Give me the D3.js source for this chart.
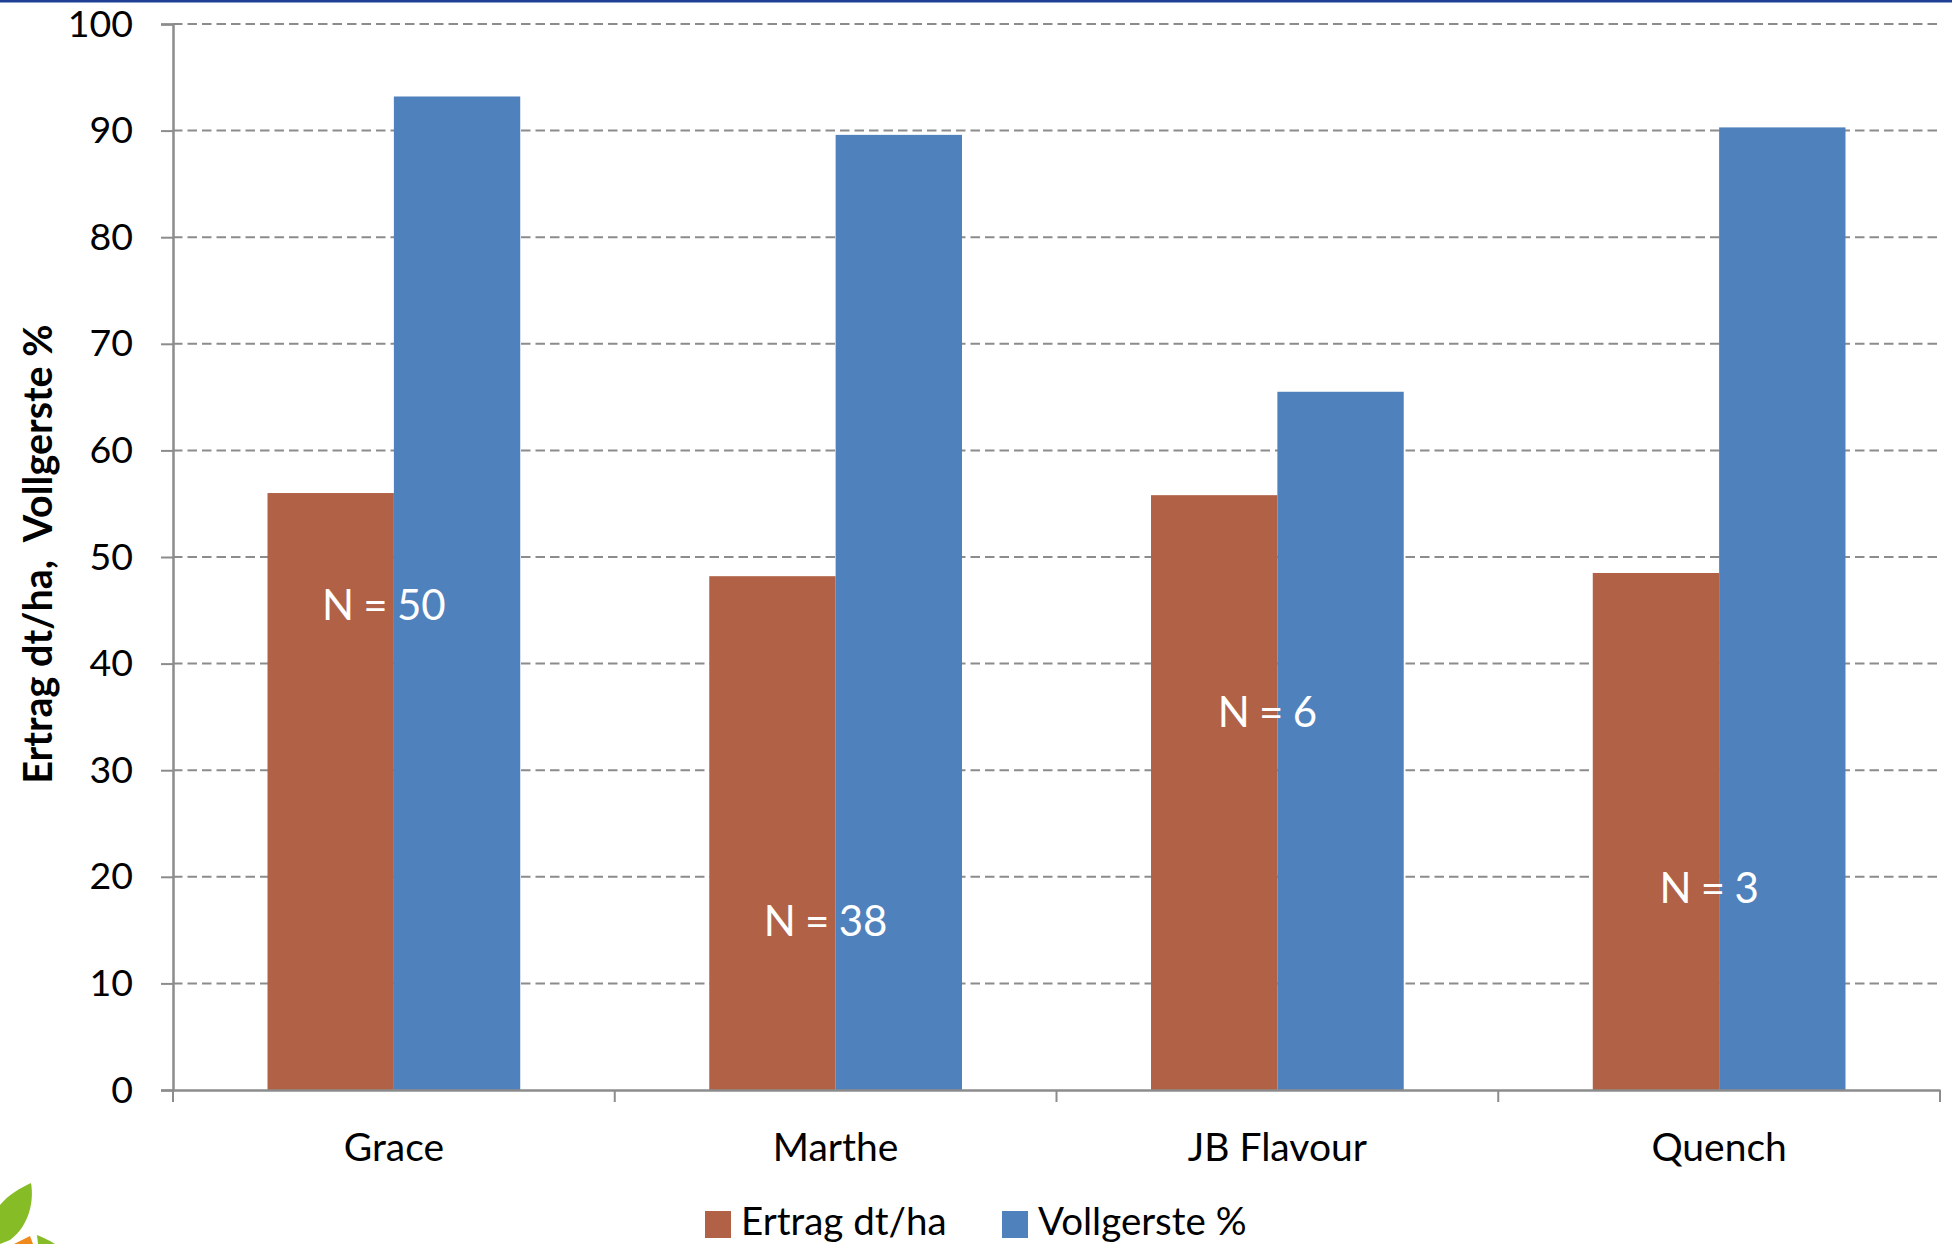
<!DOCTYPE html>
<html><head><meta charset="utf-8">
<script src="https://cdn.jsdelivr.net/npm/d3@7"></script>
<style>body{margin:0;background:#fff}svg{display:block}text{font-family:Lato,"Open Sans",sans-serif}</style>
</head><body>
<script>
const categories = ["Grace","Marthe","JB Flavour","Quench"];
const seriesNames = ["Ertrag dt/ha","Vollgerste %"];
const ertrag = [56.0, 48.2, 55.8, 48.5];
const vollgerste = [93.2, 89.6, 65.5, 90.3];
const nLabels = ["N = 50","N = 38","N = 6","N = 3"];
const nLabelY = [45.5, 15.9, 35.5, 19.0];
const yTicks = [0,10,20,30,40,50,60,70,80,90,100];
const colors = ["#B16146","#4F81BD"];

const W=1952,H=1244;
const svg=d3.select("body").append("svg").attr("width",W).attr("height",H);
const L=173,R=1940,T=24,B=1090;
const y=d3.scaleLinear().domain([0,100]).range([B,T]);
const x=d3.scaleBand().domain(categories).range([L,R]).paddingInner(0).paddingOuter(0);
const xs=d3.scaleBand().domain(seriesNames).range([0,x.bandwidth()]).paddingInner(0).paddingOuter(0.748);

// top blue line
svg.append("rect").attr("x",0).attr("y",0).attr("width",W).attr("height",2.5).attr("fill","#1F3F95");

// gridlines
svg.append("g").selectAll("line").data(yTicks.filter(d=>d>0)).join("line")
  .attr("x1",L).attr("x2",R).attr("y1",d=>y(d)).attr("y2",d=>y(d))
  .attr("stroke","#8C8C8C").attr("stroke-width",2).attr("stroke-dasharray","9.5,5");

// bars
const rows=categories.map((c,i)=>({c,vals:[ertrag[i],vollgerste[i]]}));
const g=svg.append("g");
rows.forEach(r=>{
  r.vals.forEach((v,j)=>{
    g.append("rect").attr("x",x(r.c)+xs(seriesNames[j])).attr("y",y(v))
      .attr("width",xs.bandwidth()).attr("height",y(0)-y(v)).attr("fill",colors[j]);
  });
});

// N labels
svg.append("g").selectAll("text").data(categories).join("text")
  .attr("x",(d)=>x(d)+x.bandwidth()/2-10).attr("y",(d,i)=>y(nLabelY[i]))
  .attr("dy","0.36em").attr("text-anchor","middle").attr("fill","#fff")
  .attr("font-size",42).attr("word-spacing",-1.5).text((d,i)=>nLabels[i]);

// y axis
const ya=svg.append("g").attr("transform",`translate(${L},0)`)
  .call(d3.axisLeft(y).tickValues(yTicks).tickSize(12).tickPadding(28));
ya.select(".domain").attr("stroke","#8C8C8C").attr("stroke-width",2.5);
ya.selectAll(".tick line").attr("stroke","#8C8C8C").attr("stroke-width",2);
ya.selectAll(".tick text").attr("font-size",37.5).attr("fill","#000").attr("font-family","Lato");

// x axis
const xa=svg.append("g").attr("transform",`translate(0,${B})`)
  .call(d3.axisBottom(x).tickSize(0).tickPadding(43));
xa.select(".domain").attr("stroke","#8C8C8C").attr("stroke-width",2.5);
xa.selectAll(".tick text").attr("font-size",39).attr("fill","#000").attr("font-family","Lato");
const bounds=categories.map(c=>x(c)).concat([R]);
svg.append("g").selectAll("line").data(bounds).join("line")
  .attr("x1",d=>d).attr("x2",d=>d).attr("y1",B).attr("y2",B+12)
  .attr("stroke","#8C8C8C").attr("stroke-width",2);

// y title
svg.append("text").attr("transform","translate(52,554) rotate(-90)")
  .attr("text-anchor","middle").attr("font-weight","bold").attr("font-size",39.5)
  .attr("xml:space","preserve").text("Ertrag dt/ha,  Vollgerste %");

// legend
const lg=svg.append("g");
const legX=[705,1002];
seriesNames.forEach((s,i)=>{
  lg.append("rect").attr("x",legX[i]).attr("y",1211).attr("width",26).attr("height",27).attr("fill",colors[i]);
  lg.append("text").attr("x",legX[i]+36).attr("y",1235).attr("font-size",38.5).text(s);
});

// logo fragment
const logo=svg.append("g");
logo.append("path").attr("d","M31,1183 C34,1200 30,1225 10,1240 L0,1244 L0,1205 C8,1195 20,1188 31,1183 Z").attr("fill","#86BC25");
logo.append("path").attr("d","M14,1244 L30,1236 L33,1244 Z").attr("fill","#F18A1C");
logo.append("path").attr("d","M37,1235 C45,1238 52,1242 55,1244 L38,1244 Z").attr("fill","#86BC25");
</script>
</body></html>
